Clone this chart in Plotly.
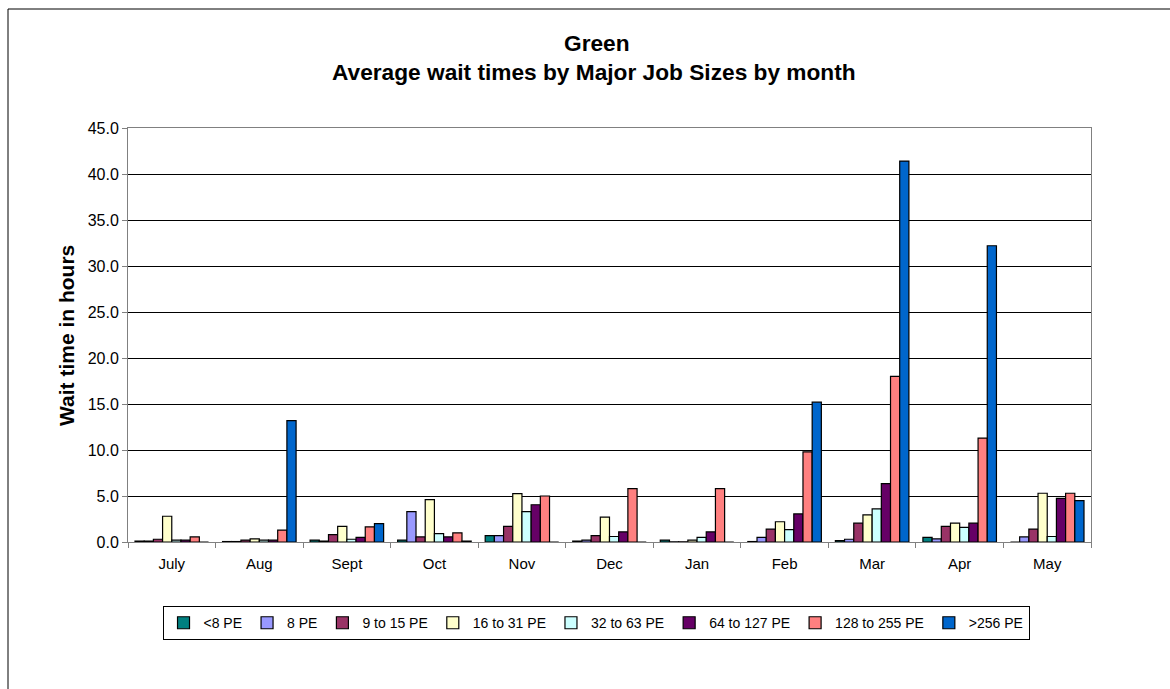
import plotly.graph_objects as go

months = ["July", "Aug", "Sept", "Oct", "Nov", "Dec", "Jan", "Feb", "Mar", "Apr", "May"]

pe_lt8     = [0.1, 0.05, 0.2, 0.2, 0.7, 0.1, 0.2, 0.05, 0.15, 0.5, 0.0]
pe_8       = [0.1, 0.05, 0.1, 3.3, 0.7, 0.2, 0.02, 0.5, 0.3, 0.35, 0.55]
pe_9_15    = [0.3, 0.2, 0.8, 0.55, 1.7, 0.7, 0.02, 1.4, 2.05, 1.7, 1.4]
pe_16_31   = [2.8, 0.35, 1.7, 4.6, 5.25, 2.7, 0.2, 2.2, 2.95, 2.05, 5.3]
pe_32_63   = [0.2, 0.2, 0.3, 0.9, 3.3, 0.6, 0.5, 1.35, 3.6, 1.6, 0.6]
pe_64_127  = [0.2, 0.2, 0.5, 0.55, 4.05, 1.1, 1.1, 3.05, 6.35, 2.05, 4.75]
pe_128_255 = [0.55, 1.3, 1.65, 1.0, 5.0, 5.8, 5.8, 9.8, 18.0, 11.3, 5.3]
pe_gt256   = [0.0, 13.2, 2.0, 0.1, 0.0, 0.0, 0.0, 15.2, 41.4, 32.2, 4.5]

series_names = ["<8 PE", "8 PE", "9 to 15 PE", "16 to 31 PE", "32 to 63 PE",
                "64 to 127 PE", "128 to 255 PE", ">256 PE"]
series_values = [pe_lt8, pe_8, pe_9_15, pe_16_31, pe_32_63, pe_64_127, pe_128_255, pe_gt256]
colors = ["#008080", "#9999FF", "#993366", "#FFFFCC", "#CCFFFF", "#660066", "#FF8080", "#0066CC"]

y_ticks = [0, 5, 10, 15, 20, 25, 30, 35, 40, 45]

fig = go.Figure()
for name, vals, col in zip(series_names, series_values, colors):
    fig.add_trace(go.Bar(
        x=months, y=vals, name=name,
        marker=dict(color=col, line=dict(color="black", width=1.2)),
    ))

fig.update_layout(
    width=1170, height=689,
    margin=dict(l=128, r=79, t=128, b=147),
    paper_bgcolor="white", plot_bgcolor="white",
    barmode="group", bargap=0.16, bargroupgap=0,
    font=dict(family="Liberation Sans, Arial", color="black"),
    showlegend=True,
    legend=dict(orientation="h", x=0.486, xanchor="center", y=-0.155, yanchor="top",
                bordercolor="black", borderwidth=1, bgcolor="white",
                font=dict(size=14), itemwidth=30, tracegroupgap=0,
                traceorder="normal"),
    xaxis=dict(showline=True, linecolor="#808080", linewidth=1, mirror=True,
               ticks="outside", tickson="boundaries", ticklen=5, tickcolor="#808080",
               tickfont=dict(size=15), ticklabelstandoff=8, showgrid=False),
    yaxis=dict(range=[0, 45], tickvals=y_ticks, tickformat=".1f",
               showline=True, linecolor="#808080", linewidth=1, mirror=True,
               ticks="outside", ticklen=5, tickcolor="#808080",
               tickfont=dict(size=16), showgrid=True, gridcolor="black", gridwidth=1,
               zeroline=False),
    annotations=[
        dict(text="<b>Green</b>", xref="paper", yref="paper",
             x=(597 - 128) / 963, y=(542 - 43) / 414, xanchor="center", yanchor="middle",
             showarrow=False, font=dict(size=22.7)),
        dict(text="<b>Average wait times by Major Job Sizes by month</b>", xref="paper", yref="paper",
             x=(594 - 128) / 963, y=(542 - 72) / 414, xanchor="center", yanchor="middle",
             showarrow=False, font=dict(size=22.7)),
        dict(text="<b>Wait time in hours</b>", xref="paper", yref="paper",
             x=(66 - 128) / 963, y=(542 - 336) / 414, xanchor="center", yanchor="middle",
             textangle=-90, showarrow=False, font=dict(size=21)),
    ],
    shapes=[
        dict(type="line", xref="paper", yref="paper",
             x0=(8 - 128) / 963, x1=(1175 - 128) / 963,
             y0=(542 - 9) / 414, y1=(542 - 9) / 414, line=dict(color="black", width=1)),
        dict(type="line", xref="paper", yref="paper",
             x0=(8 - 128) / 963, x1=(8 - 128) / 963,
             y0=(542 - 9) / 414, y1=(542 - 695) / 414, line=dict(color="black", width=1)),
    ],
)

fig.write_html("out.html")
